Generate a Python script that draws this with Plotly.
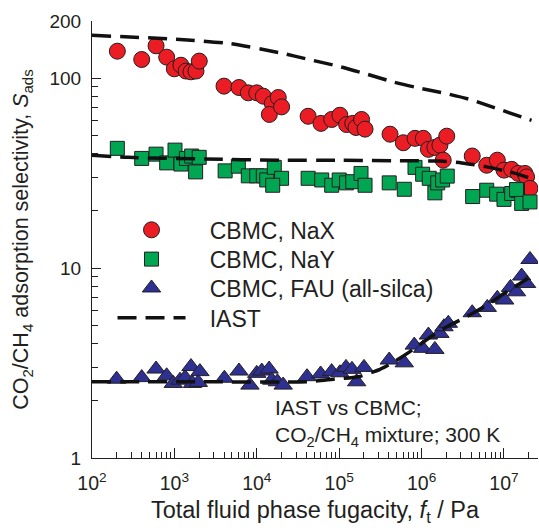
import plotly.graph_objects as go

# ---- data ----
nax_f = [203, 401, 599, 806, 998, 1200, 1385, 1590, 1828, 2004,
         4000, 6080, 7890, 9980, 12000, 15420, 18230, 14200, 20000, 42000,
         60100, 81100, 102000, 123000, 146000, 160000, 187000, 206000,
         414000, 600000, 832000, 1.05e6, 1.21e6, 1.45e6, 1.67e6, 2.02e6, 1.83e6,
         4.12e6, 6.17e6, 8.3e6, 1.0e7, 1.24e7, 1.49e7, 1.8e7, 1.88e7, 2.07e7]
nax_s = [138.7, 125.4, 148, 129, 112, 117, 109, 108, 109, 123,
         90.8, 89.3, 83.7, 83.7, 80.4, 73.6, 79.1, 64.4, 70.6, 63.0,
         57.8, 60.6, 63.8, 57.0, 57.8, 55.0, 60.6, 53.9,
         50.7, 45.7, 48.2, 48.2, 42.2, 43.2, 44.4, 49.5, 37.0,
         38.9, 34.8, 37.0, 32.8, 33.1, 31.5, 31.5, 30.2, 26.3]

nay_f = [203, 401, 599, 806, 1017, 1200, 1400, 1620, 2000, 1810,
         4130, 5970, 7890, 9980, 12000, 13200, 16300, 20000, 15600, 42000,
         61400, 81100, 100000, 123000, 146000, 184000, 206000,
         405000, 617000, 832000, 1.03e6, 1.24e6, 1.45e6, 1.57e6, 1.8e6, 2.05e6,
         4.17e6, 6.17e6, 8.15e6, 1.0e7, 1.24e7, 1.46e7, 1.42e7, 1.64e7, 2.07e7]
nay_s = [42.7, 37.8, 39.8, 35.8, 41.8, 35.3, 37.8, 38.9, 38.3, 32.1,
         32.5, 34.4, 30.6, 30.6, 30.6, 29.1, 33.9, 29.7, 27.3, 29.7,
         29.1, 27.3, 29.1, 28.1, 28.5, 31.5, 27.3,
         28.1, 26.0, 33.9, 31.2, 29.7, 24.9, 28.1, 29.1, 30.5,
         23.8, 25.7, 24.5, 23.0, 24.7, 25.7, 25.9, 21.9, 22.3]

fau_f = [199, 401, 599, 806, 970, 1170, 1350, 1590, 1660, 2040, 1950,
         4040, 6080, 8260, 9980, 11500, 14100, 15200, 17800, 20900,
         40700, 59600, 81000, 102000, 121000, 143000, 163000, 200000,
         405000, 617000, 815000, 1.03e6, 1.45e6, 1.21e6, 1.67e6, 1.87e6, 2.11e6,
         4.12e6, 6.27e6, 8.3e6, 1.02e7, 1.2e7, 1.42e7, 1.64e7, 1.88e7, 2.07e7]
fau_s = [2.6, 2.65, 2.94, 2.71, 2.47, 2.57, 2.65, 3.03, 2.47, 2.85, 2.5,
         2.63, 2.87, 2.42, 2.79, 2.87, 2.94, 2.57, 2.52, 2.42,
         2.68, 2.77, 2.85, 2.81, 3.0, 2.93, 2.52, 3.0,
         3.28, 3.17, 3.93, 3.78, 3.73, 4.44, 4.53, 4.91, 5.12,
         5.82, 6.21, 6.93, 6.79, 7.91, 7.5, 9.08, 8.3, 11.1]

iast_nax_f = [100, 1170, 4730, 19100, 44300, 102000, 216000, 450000, 873000,
              1.82e6, 3.87e6, 8.15e6, 1.7e7, 2.16e7]
iast_nax_s = [168, 160, 152, 136, 125, 115, 105, 95.6, 89.3, 83.7, 77.3, 69.3, 62.1, 60]

iast_nay_f = [100, 274, 2350, 19100, 102000, 547000, 1.67e6, 3.07e6, 6.17e6, 1.3e7, 1.97e7]
iast_nay_s = [39.3, 38.3, 37.5, 37.0, 37.0, 36.7, 36.6, 35.8, 34.1, 31.7, 30.0]

iast_fau_f = [100, 2050, 40300, 85000, 171000, 313000, 433000, 723000, 1.39e6,
              2.02e6, 3.21e6, 6.17e6, 1.08e7, 1.97e7]
iast_fau_s = [2.52, 2.52, 2.52, 2.60, 2.68, 2.93, 3.15, 3.63, 4.44,
              4.91, 5.43, 6.38, 7.5, 8.83]

x_tickvals = [1e2, 1e3, 1e4, 1e5, 1e6, 1e7]
x_ticktext = ["10<sup>2</sup>", "10<sup>3</sup>", "10<sup>4</sup>",
              "10<sup>5</sup>", "10<sup>6</sup>", "10<sup>7</sup>"]
y_tickvals = [1, 10, 100, 200]
y_ticktext = ["1", "10", "100", "200"]

FONT = "Liberation Sans, Arial, sans-serif"
INK = "#231F20"
OUT = dict(color=INK, width=1)
DASH = "19px,9px"
PAD = "\u00a0\u00a0\u00a0"

fig = go.Figure()
fig.add_trace(go.Scatter(x=nax_f, y=nax_s, mode="markers", name=PAD + "CBMC, NaX",
                         legend="legend",
                         marker=dict(symbol="circle", size=16, color="#EC1C24", line=OUT)))
fig.add_trace(go.Scatter(x=nay_f, y=nay_s, mode="markers", name=PAD + "CBMC, NaY",
                         legend="legend2",
                         marker=dict(symbol="square", size=14, color="#00A651", line=OUT)))
fig.add_trace(go.Scatter(x=fau_f, y=fau_s, mode="markers", name=PAD + "CBMC, FAU (all-silca)",
                         legend="legend3",
                         marker=dict(symbol="triangle-up", size=16, color="#2E3192", line=OUT)))
for i, (xf, ys) in enumerate([(iast_nax_f, iast_nax_s), (iast_nay_f, iast_nay_s),
                              (iast_fau_f, iast_fau_s)]):
    fig.add_trace(go.Scatter(x=xf, y=ys, mode="lines", name=PAD + "IAST",
                             legend="legend4", showlegend=(i == 0),
                             line=dict(color="#111111", width=3.5, dash=DASH, shape="spline",
                                       smoothing=0.6)))

minor_x = [m * 10 ** e for e in range(2, 8) for m in range(2, 10) if m * 10 ** e < 2.6e7]
minor_y = [m * 10 ** e for e in range(0, 2) for m in range(2, 10)]


def leg(yc):
    return dict(x=0.046, y=yc, xanchor="left", yanchor="middle",
                bgcolor="rgba(0,0,0,0)", font=dict(size=23, family=FONT, color=INK),
                itemwidth=68, borderwidth=0)


fig.update_layout(
    width=539, height=530,
    margin=dict(l=92, r=1, t=21, b=72),
    paper_bgcolor="white", plot_bgcolor="white",
    font=dict(family=FONT, size=19, color=INK),
    showlegend=True,
    legend=leg(0.522), legend2=leg(0.455), legend3=leg(0.389), legend4=leg(0.321),
    xaxis=dict(type="log", range=[2, 7.413], showline=True, linecolor=INK,
               linewidth=1, showgrid=False, zeroline=False, mirror=False,
               tickmode="array", tickvals=x_tickvals, ticktext=x_ticktext,
               ticks="inside", ticklen=10, tickcolor=INK, ticklabelstandoff=8,
               minor=dict(tickmode="array", tickvals=minor_x, ticks="inside",
                          ticklen=6, tickcolor=INK, showgrid=False),
               title=dict(text="Total fluid phase fugacity, <i>f</i><sub>t</sub> / Pa",
                          standoff=8, font=dict(size=23.5, family=FONT, color=INK)),
               tickfont=dict(size=19.5, family=FONT, color=INK)),
    yaxis=dict(type="log", range=[0, 2.301], showline=True, linecolor=INK,
               linewidth=1, showgrid=False, zeroline=False, mirror=False,
               tickmode="array", tickvals=y_tickvals, ticktext=y_ticktext,
               ticks="inside", ticklen=9, tickcolor=INK, ticklabelstandoff=6,
               minor=dict(tickmode="array", tickvals=minor_y, ticks="inside",
                          ticklen=6, tickcolor=INK, showgrid=False),
               title=dict(text="CO<sub>2</sub>/CH<sub>4</sub> adsorption selectivity, <i>S</i><sub>ads</sub>",
                          standoff=14, font=dict(size=21.5, family=FONT, color=INK)),
               tickfont=dict(size=19, family=FONT, color=INK)),
)

fig.add_annotation(xref="paper", yref="paper", x=0.405, y=0.079,
                   xanchor="left", yanchor="middle", align="left", showarrow=False,
                   text="IAST vs CBMC;<br>CO<sub>2</sub>/CH<sub>4</sub> mixture; 300 K",
                   font=dict(size=21, family=FONT, color=INK))

fig.write_html("out.html")
